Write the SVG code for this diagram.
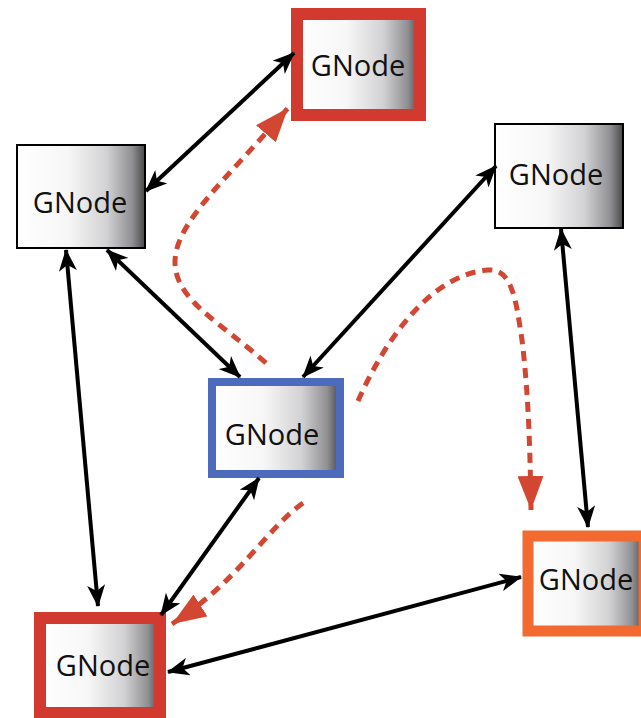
<svg xmlns="http://www.w3.org/2000/svg" width="641" height="718" viewBox="0 0 641 718">
  <style>
    .box { fill: url(#shade); }
    .plain { stroke: #000; stroke-width: 2; }
    .red { stroke: #d23a30; stroke-width: 12; }
    .blue { stroke: #4d6bbd; stroke-width: 8; }
    .orange { stroke: #f26a30; stroke-width: 11; }
    .label { font-family: "Open Sans", "Noto Sans", sans-serif; font-size: 29px; fill: #111; text-anchor: middle; }
    .link { fill: none; stroke: #000; stroke-width: 4; marker-start: url(#tip); marker-end: url(#tip); }
    .flow { fill: none; stroke: #d24632; stroke-width: 5; stroke-dasharray: 10 7; marker-end: url(#bigtip); }
  </style>
  <defs>
    <linearGradient id="shade" x1="0" y1="0" x2="1" y2="0">
      <stop offset="0" stop-color="#ffffff"/>
      <stop offset="0.4" stop-color="#f7f7f7"/>
      <stop offset="0.7" stop-color="#d2d2d4"/>
      <stop offset="0.9" stop-color="#909094"/>
      <stop offset="1" stop-color="#48484a"/>
    </linearGradient>
    <!-- head size scales with the 4px line width: 5.5 x 4.5 line widths -->
    <marker id="tip" viewBox="0 0 22 18" refX="21" refY="9" markerWidth="5.5" markerHeight="4.5" markerUnits="strokeWidth" orient="auto-start-reverse">
      <path d="M0,0 L22,9 L0,18 L6,9 z" fill="#000"/>
    </marker>
    <marker id="bigtip" viewBox="0 0 34 26" refX="34" refY="13" markerWidth="34" markerHeight="26" markerUnits="userSpaceOnUse" orient="auto">
      <path d="M0,0 L34,13 L0,26 z" fill="#d24632"/>
    </marker>
  </defs>

  <g id="node-top">
    <rect class="box red" x="297" y="14" width="123" height="101"/>
    <text class="label" x="358" y="76">GNode</text>
  </g>
  <g id="node-left">
    <rect class="box plain" x="17" y="145" width="128" height="103"/>
    <text class="label" x="80" y="213">GNode</text>
  </g>
  <g id="node-right">
    <rect class="box plain" x="495" y="124" width="128" height="104"/>
    <text class="label" x="556" y="185">GNode</text>
  </g>
  <g id="node-center">
    <rect class="box blue" x="212" y="382" width="128" height="92"/>
    <text class="label" x="272" y="445">GNode</text>
  </g>
  <g id="node-lower-right">
    <rect class="box orange" x="528" y="536" width="116" height="95"/>
    <text class="label" x="586" y="590">GNode</text>
  </g>
  <g id="node-lower-left">
    <rect class="box red" x="40" y="618" width="120" height="95"/>
    <text class="label" x="103" y="676">GNode</text>
  </g>

  <g id="connectors">
    <line class="link" x1="146" y1="191" x2="294" y2="53"/>
    <line class="link" x1="107" y1="250" x2="240" y2="377"/>
    <line class="link" x1="66" y1="250" x2="98" y2="606"/>
    <line class="link" x1="496" y1="166" x2="303" y2="377"/>
    <line class="link" x1="561" y1="229" x2="588" y2="527"/>
    <line class="link" x1="259" y1="478" x2="161" y2="615"/>
    <line class="link" x1="168" y1="672" x2="521" y2="577"/>
    <path class="flow" d="M266,363 C220,322 175,300 175,262 C175,222 228,178 288,108"/>
    <path class="flow" d="M358,401 C385,340 430,275 488,270 C512,268 516,300 522,340 C528,390 530,440 531,510"/>
    <path class="flow" d="M303,503 C265,530 240,580 172,624"/>
  </g>
</svg>
